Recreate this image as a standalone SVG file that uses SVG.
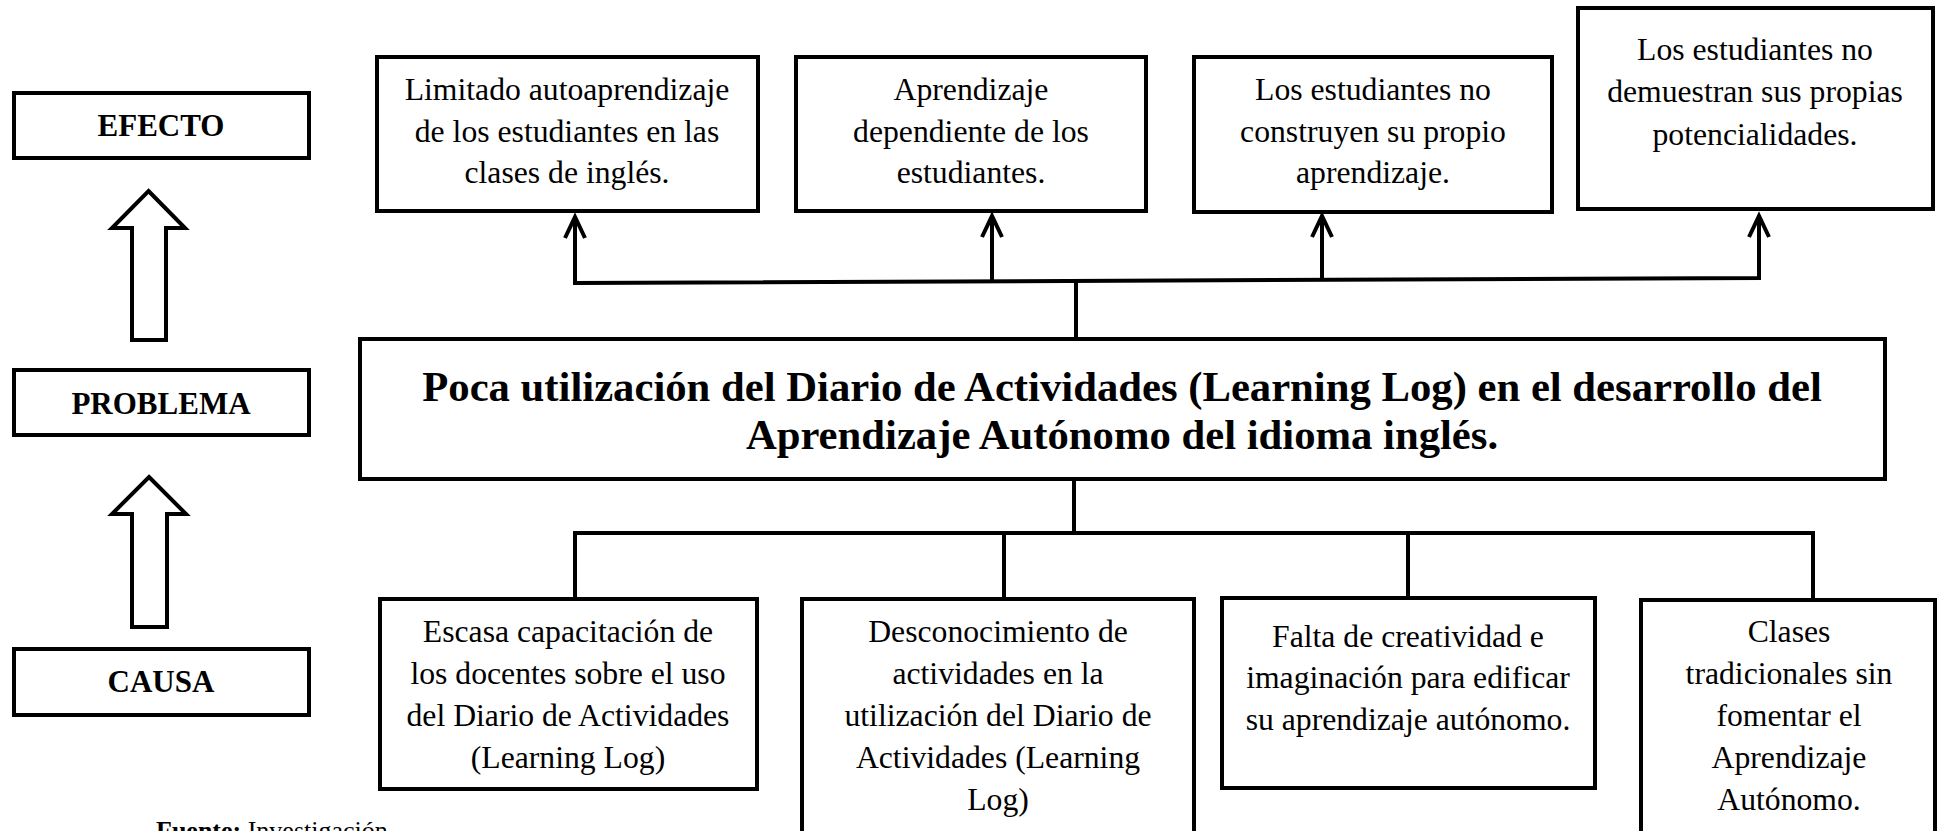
<svg xmlns="http://www.w3.org/2000/svg" width="1939" height="831" viewBox="0 0 1939 831">
<style>
.box{fill:#fff;stroke:#000;stroke-width:4}
.t{font-family:"Liberation Serif","Times New Roman",serif;font-size:31.7px;fill:#000;text-anchor:middle}
.lb{font-family:"Liberation Serif","Times New Roman",serif;font-size:31px;font-weight:bold;fill:#000;text-anchor:middle}
.main{font-family:"Liberation Serif","Times New Roman",serif;font-size:42.7px;font-weight:bold;fill:#000;text-anchor:middle}
.c{fill:none;stroke:#000;stroke-width:4}
.ah{fill:none;stroke:#000;stroke-width:4;stroke-linejoin:miter}
.blk{fill:#fff;stroke:#000;stroke-width:4}
</style>
<rect width="1939" height="831" fill="#fff"/>
<g id="connectors">
<polyline class="c" points="575,217 575,283 1759,278 1759,216"/>
<line class="c" x1="992" y1="281" x2="992" y2="216"/>
<line class="c" x1="1322" y1="280" x2="1322" y2="216"/>
<line class="c" x1="1076" y1="281" x2="1076" y2="339"/>
<polyline class="ah" points="565,238 575,217 585,238"/>
<polyline class="ah" points="982,237 992,216 1002,237"/>
<polyline class="ah" points="1312,237 1322,216 1332,237"/>
<polyline class="ah" points="1749,237 1759,216 1769,237"/>
<line class="c" x1="1074" y1="479" x2="1074" y2="533"/>
<polyline class="c" points="575,599 575,533 1813,533 1813,600"/>
<line class="c" x1="1004" y1="533" x2="1004" y2="599"/>
<line class="c" x1="1408" y1="533" x2="1408" y2="598"/>
</g>
<g id="arrow-up-1"><polygon class="blk" points="148.5,191 185,228 166,228 166,340 132,340 132,228 112,228"/></g>
<g id="arrow-up-2"><polygon class="blk" points="149,477 186,514 167,514 167,627 132,627 132,514 112,514"/></g>
<g id="efecto"><rect class="box" x="14" y="93" width="295" height="65"/><text class="lb" x="161" y="136">EFECTO</text></g>
<g id="problema"><rect class="box" x="14" y="370" width="295" height="65"/><text class="lb" x="161" y="414">PROBLEMA</text></g>
<g id="causa"><rect class="box" x="14" y="649" width="295" height="66"/><text class="lb" x="161" y="692">CAUSA</text></g>
<g id="efecto-1"><rect class="box" x="377" y="57" width="381" height="154"/>
<text class="t"><tspan x="567" y="100">Limitado autoaprendizaje</tspan><tspan x="567" y="142">de los estudiantes en las</tspan><tspan x="567" y="183">clases de inglés.</tspan></text></g>
<g id="efecto-2"><rect class="box" x="796" y="57" width="350" height="154"/>
<text class="t"><tspan x="971" y="100">Aprendizaje</tspan><tspan x="971" y="142">dependiente de los</tspan><tspan x="971" y="183">estudiantes.</tspan></text></g>
<g id="efecto-3"><rect class="box" x="1194" y="57" width="358" height="155"/>
<text class="t"><tspan x="1373" y="100">Los estudiantes no</tspan><tspan x="1373" y="142">construyen su propio</tspan><tspan x="1373" y="183">aprendizaje.</tspan></text></g>
<g id="efecto-4"><rect class="box" x="1578" y="8" width="355" height="201"/>
<text class="t"><tspan x="1755" y="60">Los estudiantes no</tspan><tspan x="1755" y="102">demuestran sus propias</tspan><tspan x="1755" y="145">potencialidades.</tspan></text></g>
<g id="problema-central"><rect class="box" x="360" y="339" width="1525" height="140"/>
<text class="main"><tspan x="1122" y="401">Poca utilización del Diario de Actividades (Learning Log) en el desarrollo del</tspan><tspan x="1122" y="449">Aprendizaje Autónomo del idioma inglés.</tspan></text></g>
<g id="causa-1"><rect class="box" x="380" y="599" width="377" height="190"/>
<text class="t"><tspan x="568" y="642">Escasa capacitación de</tspan><tspan x="568" y="684">los docentes sobre el uso</tspan><tspan x="568" y="726">del Diario de Actividades</tspan><tspan x="568" y="768">(Learning Log)</tspan></text></g>
<g id="causa-2"><rect class="box" x="802" y="599" width="392" height="250"/>
<text class="t"><tspan x="998" y="642">Desconocimiento de</tspan><tspan x="998" y="684">actividades en la</tspan><tspan x="998" y="726">utilización del Diario de</tspan><tspan x="998" y="768">Actividades (Learning</tspan><tspan x="998" y="810">Log)</tspan></text></g>
<g id="causa-3"><rect class="box" x="1222" y="598" width="373" height="190"/>
<text class="t"><tspan x="1408" y="647">Falta de creatividad e</tspan><tspan x="1408" y="688">imaginación para edificar</tspan><tspan x="1408" y="730">su aprendizaje autónomo.</tspan></text></g>
<g id="causa-4"><rect class="box" x="1641" y="600" width="294" height="250"/>
<text class="t"><tspan x="1789" y="642">Clases</tspan><tspan x="1789" y="684">tradicionales sin</tspan><tspan x="1789" y="726">fomentar el</tspan><tspan x="1789" y="768">Aprendizaje</tspan><tspan x="1789" y="810">Autónomo.</tspan></text></g>
<text x="156" y="839" style="font-family:'Liberation Serif','Times New Roman',serif;font-size:26px;fill:#000"><tspan font-weight="bold">Fuente:</tspan> Investigación</text>
</svg>
